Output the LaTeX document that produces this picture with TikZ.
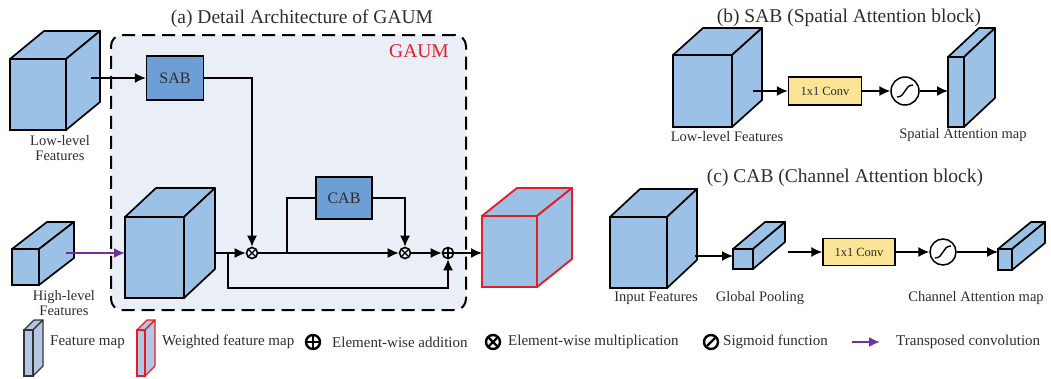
\documentclass[tikz,border=0pt]{standalone}
\usepackage{fontspec}
\setmainfont{Liberation Serif}
\usetikzlibrary{arrows.meta,calc}

\definecolor{cubefill}{RGB}{155,194,230}
\definecolor{blockfill}{RGB}{110,158,214}
\definecolor{gaumfill}{RGB}{233,238,247}
\definecolor{convfill}{RGB}{252,228,150}
\definecolor{legendfill}{RGB}{180,198,228}
\definecolor{edgered}{RGB}{228,30,38}
\definecolor{tconvpurple}{RGB}{112,48,160}
\definecolor{txtgray}{RGB}{45,45,45}

% 3-D block: #1 name of front face, #2 left, #3 top, #4 width, #5 height,
% #6 depth dx, #7 depth dy, #8 edge options, #9 fill colour
\newcommand{\cubeshape}[9]{%
  \filldraw[fill=#9, #8, line join=round]
    (#2,#3) -- ++(#6,-#7) -- ++(#4,0) -- ++(-#6,#7) -- cycle;
  \filldraw[fill=#9, #8, line join=round]
    ({#2+#4},#3) -- ++(#6,-#7) -- ++(0,#5) -- ++(-#6,#7) -- cycle;
  \node[fill=#9, #8, anchor=north west, minimum width=#4pt, minimum height=#5pt,
        inner sep=0pt, outer sep=0pt] (#1) at (#2,#3) {};%
}
% sigmoid stroke inside a circle node
\newcommand{\sigcurve}[2]{%
  \draw[line width=#2] ([shift={(-8,6)}]#1.center) .. controls ([shift={(1,6)}]#1.center)
    and ([shift={(-1,-6)}]#1.center) .. ([shift={(8,-6)}]#1.center);%
}

\tikzset{
  conn/.style={line width=1.5pt, -{Latex[length=11pt,width=10pt]}},
  wire/.style={line width=1.5pt},
  tconv/.style={line width=2pt, draw=tconvpurple, fill=tconvpurple, -{Latex[length=11pt,width=10pt]}},
  blk/.style={draw, line width=1.5pt, fill=blockfill, minimum width=57pt, minimum height=44pt,
              inner sep=0pt, font=\fontsize{16}{18}\selectfont, text=txtgray},
  convbox/.style={draw, line width=1.5pt, fill=convfill, minimum width=73pt, minimum height=28pt,
              inner sep=0pt, font=\fontsize{12.5}{14}\selectfont, text=txtgray},
  opnode/.style={circle, draw, line width=1.6pt, minimum size=11pt, inner sep=0pt},
  lgop/.style={circle, draw, line width=2.4pt, minimum size=14pt, inner sep=0pt},
  opplus/.style={path picture={\draw[line width=#1]
      (path picture bounding box.north) -- (path picture bounding box.south)
      (path picture bounding box.west) -- (path picture bounding box.east);}},
  opplus/.default=1.3pt,
  optimes/.style={path picture={\draw[line width=#1]
      (path picture bounding box.north west) -- (path picture bounding box.south east)
      (path picture bounding box.south west) -- (path picture bounding box.north east);}},
  optimes/.default=1.3pt,
  sigcircle/.style={circle, draw, line width=1.5pt, minimum size=28pt, inner sep=0pt},
  ttl/.style={font=\fontsize{19.5}{22}\selectfont, text=txtgray, inner sep=0pt},
  lbl/.style={font=\fontsize{14.5}{15.5}\selectfont, text=txtgray, align=center, inner sep=0pt},
  lgtxt/.style={font=\fontsize{15}{16}\selectfont, text=txtgray, inner sep=0pt, anchor=west},
  blackedge/.style={draw=black, line width=1.7pt},
  rededge/.style={draw=edgered, line width=1.9pt},
  thinblack/.style={draw=black!80, line width=1.1pt},
  thinred/.style={draw=edgered, line width=1.1pt},
}

\begin{document}
\begin{tikzpicture}[x=1pt,y=-1pt]
\useasboundingbox (0,0) rectangle (1051,378);

% ---------------- (a) GAUM ----------------
\node[draw, fill=gaumfill, line width=2pt, dash pattern=on 13pt off 7pt, rounded corners=11pt,
      minimum width=355pt, minimum height=275pt, anchor=north west, inner sep=0pt] (gaum) at (110,34) {};
\node[ttl] (titlea) at (302,19) {(a) Detail Architecture of GAUM};
\node[ttl, text=edgered] (gaumtag) at (419,51) {GAUM};

\cubeshape{low}{10}{59}{56}{71}{34}{28}{blackedge}{cubefill}
\node[lbl] (lowlbl) at (60,148) {Low-level\\Features};

\cubeshape{high}{12}{249}{27}{36}{35}{27}{blackedge}{cubefill}
\node[lbl] (highlbl) at (64,303) {High-level\\Features};

\cubeshape{big}{125}{217}{59}{81}{31}{29}{blackedge}{cubefill}
\cubeshape{out}{482}{216}{55}{71}{35}{28}{rededge}{cubefill}

\node[blk] (sab) at (175,78) {SAB};
\node[blk, minimum width=56pt, minimum height=42pt] (cab) at (344,198) {CAB};

\node[opnode, optimes] (m1) at (252,253) {};
\node[opnode, optimes] (m2) at (405,253) {};
\node[opnode, opplus] (ad) at (448,253) {};

\coordinate (lowout) at (91,78);
\coordinate (hiout) at (66,253);
\coordinate (bigout) at (215,253);
\coordinate (split1) at (228,253);
\coordinate (skipcorner) at (228,288);
\coordinate (split2) at (287,253);

\draw[conn] (lowout) -- (sab.west);
\draw[conn] (sab.east) -| (m1.north);
\draw[tconv] (hiout) -- (hiout -| big.west);
\draw[conn] (bigout) -- (m1.west);
\draw[conn] (split1) -- (skipcorner) -| (ad.south);
\draw[conn] (m1.east) -- (m2.west);
\draw[wire] (split2) |- (cab.west);
\draw[conn] (cab.east) -| (m2.north);
\draw[conn] (m2.east) -- (ad.west);
\draw[conn] (ad.east) -- (ad.east -| out.west);

% ---------------- (b) SAB ----------------
\node[ttl] (titleb) at (849,18) {(b) SAB (Spatial Attention block)};
\cubeshape{sabin}{673}{55}{59}{72}{30}{27}{blackedge}{cubefill}
\node[lbl] (sabinlbl) at (727,137) {Low-level Features};
\node[convbox] (convb) at (825,91) {1x1 Conv};
\node[sigcircle] (sigb) at (905,91) {};
\sigcurve{sigb}{1.4pt}
\cubeshape{samap}{948}{57}{16}{70}{31}{29}{blackedge}{cubefill}
\node[lbl] (samaplbl) at (963,135) {Spatial Attention map};

\coordinate (sabfeat) at (753,91);
\draw[conn] (sabfeat) -- (convb.west);
\draw[conn] (convb.east) -- (sigb.west);
\draw[conn] (sigb.east) -- (sigb.east -| samap.west);

% ---------------- (c) CAB ----------------
\node[ttl] (titlec) at (845,178) {(c) CAB (Channel Attention block)};
\cubeshape{cabin}{610}{217}{57}{71}{30}{28}{blackedge}{cubefill}
\node[lbl] (cabinlbl) at (656,298) {Input Features};
\cubeshape{gp}{733}{249}{20}{20}{32}{27}{blackedge}{cubefill}
\node[lbl] (gplbl) at (760,298) {Global Pooling};
\node[convbox, minimum width=72pt, minimum height=27pt] (convc) at (859,252) {1x1 Conv};
\node[sigcircle, minimum size=26pt] (sigc) at (943,252) {};
\sigcurve{sigc}{1.4pt}
\cubeshape{cmap}{998}{249}{14}{21}{33}{27}{blackedge}{cubefill}
\node[lbl] (cmaplbl) at (976,298) {Channel Attention map};

\coordinate (cabfeat) at (695,256);
\coordinate (gpout) at (788,252);
\draw[conn] (cabfeat) -- (cabfeat -| gp.west);
\draw[conn] (gpout) -- (convc.west);
\draw[conn] (convc.east) -- (sigc.west);
\draw[conn] (sigc.east) -- (sigc.east -| cmap.west);

% ---------------- legend ----------------
\cubeshape{lgfm}{24}{330}{9}{46}{10}{10}{thinblack}{legendfill}
\node[lgtxt] (lgfmtxt) at (50,342) {Feature map};
\cubeshape{lgwfm}{137}{330}{8}{46}{10}{10}{thinred}{legendfill}
\node[lgtxt] (lgwfmtxt) at (162,342) {Weighted feature map};
\node[lgop, opplus=2.2pt] (lgadd) at (313,342) {};
\node[lgtxt] (lgaddtxt) at (332,342) {Element-wise addition};
\node[lgop, optimes=2.2pt] (lgmul) at (493,342) {};
\node[lgtxt] (lgmultxt) at (508,342) {Element-wise multiplication};
\node[lgop] (lgsig) at (711,342) {};
\draw[line width=2.4pt] ([shift={(-4,4)}]lgsig.center) -- ([shift={(4,-4)}]lgsig.center);
\node[lgtxt] (lgsigtxt) at (723,342) {Sigmoid function};
\coordinate (lgtca) at (852,342);
\coordinate (lgtcb) at (880,342);
\draw[tconv] (lgtca) -- (lgtcb);
\node[lgtxt] (lgtctxt) at (896,342) {Transposed convolution};
\end{tikzpicture}
\end{document}
